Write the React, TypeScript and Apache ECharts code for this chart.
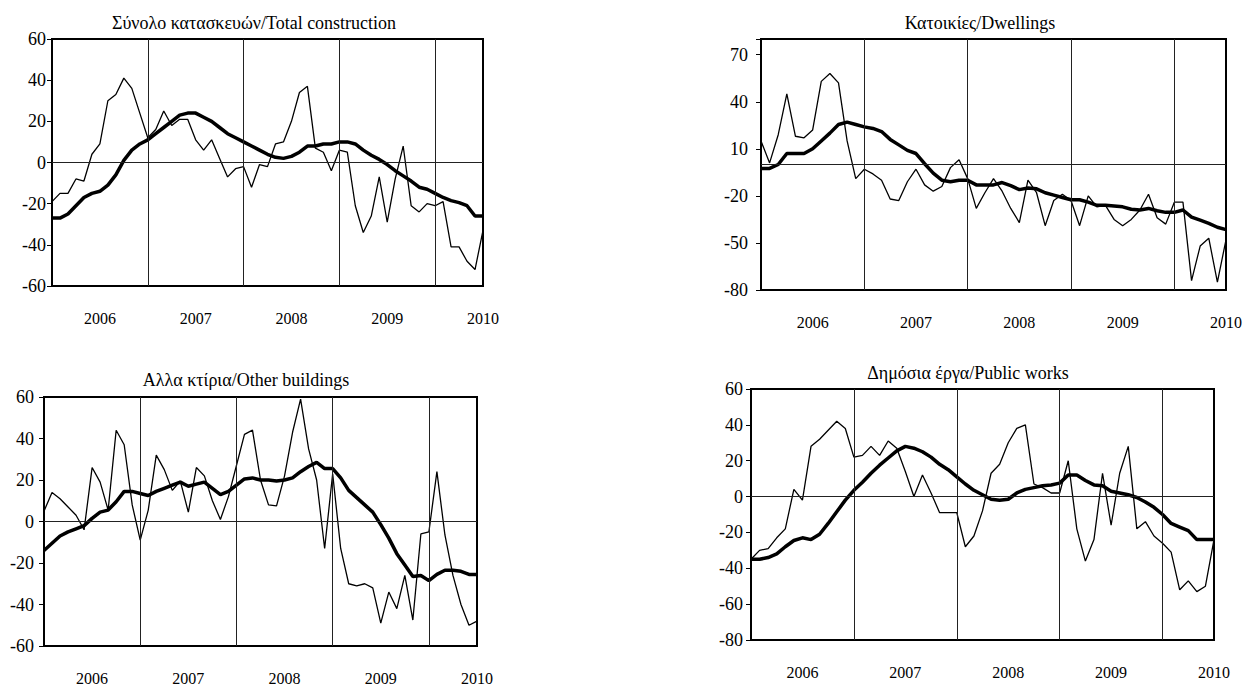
import React, { useEffect, useRef } from "react";
import * as echarts from "echarts";

// Monthly categories Jan 2006 .. Jul 2010
const months: string[] = [];
for (let y = 2006; y <= 2010; y++) {
  for (let m = 1; m <= 12; m++) {
    if (y === 2010 && m > 7) break;
    months.push(`${y}-${m < 10 ? "0" + m : m}`);
  }
}
const yearLines = ["2007-01", "2008-01", "2009-01", "2010-01"];

const titles = [
  "Σύνολο κατασκευών/Total construction",
  "Κατοικίες/Dwellings",
  "Αλλα κτίρια/Other buildings",
  "Δημόσια έργα/Public works",
];

// Total construction
const totalMonthly = [-19, -15, -15, -8, -9, 4, 9, 30, 33, 41, 36, 24, 12, 16, 25, 18, 21, 21, 11, 6, 11, 2, -7, -3, -2, -12, -1, -2, 9, 10, 20, 34, 37, 7, 5, -4, 6, 5, -21, -34, -26, -7, -29, -8, 8, -21, -24, -20, -21, -19, -41, -41, -48, -52, -33];
const totalTrend = [-27, -27, -25, -21, -17, -15, -14, -11, -6, 1, 6, 9, 11, 14, 17, 20, 23, 24, 24, 22, 20, 17, 14, 12, 10, 8, 6, 4, 2.5, 2, 3, 5, 8, 8, 9, 9, 10, 10, 9, 6, 3.5, 1.5, -1, -4, -6.5, -9, -12, -13, -15, -17, -18.5, -19.5, -21, -26, -26];

// Dwellings
const dwellMonthly = [15, 1, 19, 45, 18, 17, 22, 53, 58, 52, 15, -9, -3, -6, -10, -22, -23, -11, -3, -13, -17, -14, -2, 3, -9, -28, -18, -9, -17, -28, -37, -10, -18, -39, -23, -19, -23, -39, -20, -27, -26, -35, -39, -35, -29, -19, -34, -38, -24, -24, -74, -52, -47, -75, -48];
const dwellTrend = [-2.5, -2.5, 0, 7, 7, 7, 10, 15, 20, 25.5, 27, 25.5, 24, 23, 21, 16, 12.5, 9, 7, 0.5, -5.5, -10, -11, -10, -10, -13, -13, -13, -11.5, -13.5, -16, -15, -15.5, -18, -19.5, -21, -22.5, -22.5, -24, -26, -26, -26.5, -27, -28.5, -29, -28, -29.5, -30.5, -30.5, -29, -33.5, -35.5, -37.5, -40, -41.5];

// Other buildings
const otherMonthly = [5, 14, 11, 7, 3, -4, 26, 19, 5.5, 44, 37, 8, -9, 5.5, 32, 25, 15, 19.5, 4.5, 26, 22, 10, 1, 12, 27, 42, 44, 20, 8, 7.5, 22, 43, 59, 35, 20, -13, 23, -13, -30, -31, -30, -32, -49, -34, -42, -26, -47.5, -6, -5, 24, -6.5, -26, -40, -50, -48];
const otherTrend = [-14, -10.5, -7, -5, -3.5, -2, 1.5, 4.5, 5.5, 9.5, 14.5, 14.5, 13.5, 12.5, 14.5, 16, 17.5, 19, 17, 18, 19, 16, 13, 14.5, 17.5, 20.5, 21, 20, 20, 19.5, 20, 21, 24, 26.5, 28.5, 25.5, 25.5, 21, 15, 11.5, 8, 4.5, -1.5, -8, -15.5, -21, -26.5, -26, -28.5, -25.5, -23.5, -23.5, -24, -25.5, -25.5];

// Public works
const publicMonthly = [-35, -30, -29, -23, -18, 4, -2, 28, 32, 37, 42, 38, 22, 23, 28, 23, 31, 27, 14, 0, 12, 2, -9, -9, -9, -28, -22, -8, 13, 18, 30, 38, 40, 7, 5, 2, 2, 20, -18, -36, -24, 13, -16, 13, 28, -18, -14, -22, -26, -31, -52, -47, -53, -50, -24];
const publicTrend = [-35, -35, -34, -32, -28, -24.5, -23, -24, -21, -15, -8.5, -2, 3.5, 8, 13, 17.5, 21.5, 25.5, 28, 27, 25, 22, 18, 15, 11, 7, 3.5, 1, -1.5, -2, -1.5, 2, 4, 5, 6, 6.5, 7.5, 12, 12, 9, 6.5, 6, 3, 2, 1, -0.5, -3, -6, -10, -15, -17, -19, -24, -24, -24];

const FONT = "Liberation Serif";

const panels = [
  { title: titles[0], monthly: totalMonthly, trend: totalTrend, min: -60, max: 60, interval: 20,
    grid: { left: 52, top: 39, width: 431, height: 247 }, titlePos: { x: 249, y: 9 }, labelMargin: 6 },
  { title: titles[1], monthly: dwellMonthly, trend: dwellTrend, min: -80, max: 80, interval: 30,
    grid: { left: 761, top: 39, width: 465, height: 251 }, titlePos: { x: 975, y: 9 }, labelMargin: 13 },
  { title: titles[2], monthly: otherMonthly, trend: otherTrend, min: -60, max: 60, interval: 20,
    grid: { left: 44, top: 397, width: 433, height: 249 }, titlePos: { x: 241, y: 366 }, labelMargin: 10 },
  { title: titles[3], monthly: publicMonthly, trend: publicTrend, min: -80, max: 60, interval: 20,
    grid: { left: 751, top: 389, width: 463, height: 251 }, titlePos: { x: 963, y: 359 }, labelMargin: 8 },
];

export default function App() {
  const ref = useRef<HTMLDivElement>(null);
  useEffect(() => {
    if (!ref.current) return;
    const chart = echarts.init(ref.current, undefined, { renderer: "svg" });
    const option: any = {
      animation: false,
      backgroundColor: "#fff",
      textStyle: { fontFamily: FONT },
      title: panels.map((p) => ({
        text: p.title,
        left: p.titlePos.x,
        top: p.titlePos.y,
        textAlign: "center",
        textStyle: { fontFamily: FONT, fontSize: 18, fontWeight: "normal", color: "#000" },
      })),
      grid: panels.map((p) => ({
        ...p.grid,
        show: true,
        borderColor: "#000",
        borderWidth: 2,
        backgroundColor: "transparent",
        containLabel: false,
      })),
      xAxis: panels.map((p, k) => ({
        type: "category",
        gridIndex: k,
        data: months,
        boundaryGap: false,
        axisLine: { show: false },
        axisTick: { show: false },
        splitLine: { show: false },
        axisLabel: {
          interval: (_i: number, v: string) => v.endsWith("-07"),
          formatter: (v: string) => v.slice(0, 4),
          fontFamily: FONT,
          fontSize: 16,
          color: "#000",
          margin: 24,
          showMaxLabel: true,
          hideOverlap: false,
        },
      })),
      yAxis: panels.map((p, k) => ({
        type: "value",
        gridIndex: k,
        min: p.min,
        max: p.max,
        interval: p.interval,
        axisLine: { show: true, lineStyle: { color: "#000", width: 2 } },
        axisTick: { show: true, inside: false, length: 5, lineStyle: { color: "#000", width: 1 } },
        splitLine: { show: false },
        axisLabel: {
          fontFamily: FONT,
          fontSize: 18,
          color: "#000",
          margin: p.labelMargin,
          formatter: (v: number) => ((v - p.min) % p.interval === 0 ? String(v) : ""),
        },
      })),
      series: panels.flatMap((p, k) => [
        {
          type: "line",
          xAxisIndex: k,
          yAxisIndex: k,
          data: p.monthly,
          showSymbol: false,
          lineStyle: { color: "#000", width: 1.3 },
          z: 3,
          markLine: {
            silent: true,
            symbol: "none",
            label: { show: false },
            lineStyle: { color: "#222", width: 1, type: "solid" },
            data: [...yearLines.map((m) => ({ xAxis: m })), { yAxis: 0 }],
          },
        },
        {
          type: "line",
          xAxisIndex: k,
          yAxisIndex: k,
          data: p.trend,
          showSymbol: false,
          lineStyle: { color: "#000", width: 3.5 },
          z: 4,
        },
      ]),
    };
    chart.setOption(option);
    return () => chart.dispose();
  }, []);
  return (
    <div
      ref={ref}
      style={{ position: "absolute", left: 0, top: 0, width: 1245, height: 686 }}
    />
  );
}
